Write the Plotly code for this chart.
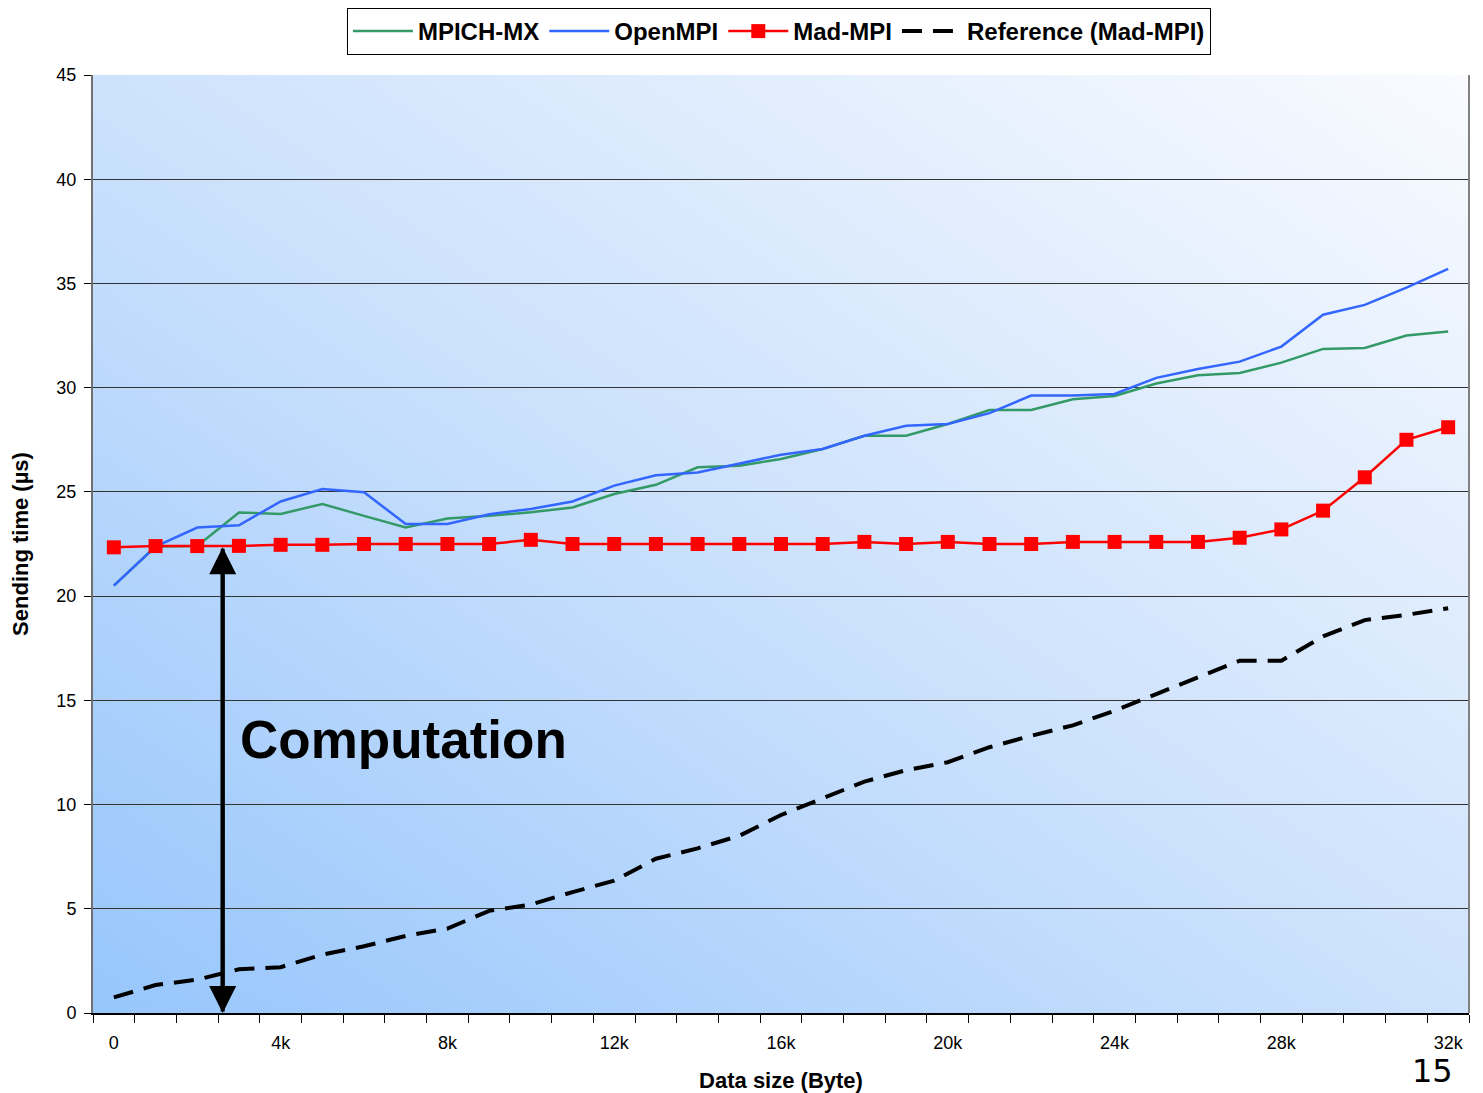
import base64
import plotly.graph_objects as go

# ---- data ----
sizes_k = list(range(33))  # data size in kB (0 .. 32k)
tick_positions = [0, 4, 8, 12, 16, 20, 24, 28, 32]
tick_labels = ["0", "4k", "8k", "12k", "16k", "20k", "24k", "28k", "32k"]
y_ticks = [0, 5, 10, 15, 20, 25, 30, 35, 40, 45]

mpich_mx = [20.5, 22.38, 22.4, 24.01, 23.94, 24.42, 23.85, 23.29, 23.72, 23.85, 24.02,
            24.25, 24.9, 25.34, 26.18, 26.25, 26.58, 27.06, 27.69, 27.69, 28.26, 28.93,
            28.93, 29.44, 29.6, 30.2, 30.6, 30.7, 31.2, 31.86, 31.9, 32.5, 32.7]
openmpi = [20.5, 22.38, 23.29, 23.4, 24.54, 25.14, 24.98, 23.46, 23.46, 23.93, 24.18,
           24.54, 25.3, 25.8, 25.93, 26.37, 26.78, 27.06, 27.69, 28.17, 28.26, 28.78,
           29.62, 29.62, 29.7, 30.47, 30.9, 31.25, 31.97, 33.5, 33.97, 34.8, 35.7]
mad_mpi = [22.34, 22.4, 22.4, 22.41, 22.46, 22.46, 22.5, 22.5, 22.5, 22.5, 22.7,
           22.5, 22.5, 22.5, 22.5, 22.5, 22.5, 22.5, 22.6, 22.5, 22.6, 22.5,
           22.5, 22.6, 22.6, 22.6, 22.6, 22.8, 23.2, 24.1, 25.7, 27.5, 28.1]
reference = [0.75, 1.34, 1.6, 2.1, 2.2, 2.8, 3.2, 3.7, 4.05, 4.9, 5.2,
             5.8, 6.35, 7.4, 7.9, 8.5, 9.5, 10.3, 11.1, 11.65, 12.03, 12.75,
             13.3, 13.8, 14.5, 15.3, 16.1, 16.9, 16.9, 18.07, 18.85, 19.1, 19.42]

computation_x = 2.61
computation_top = 22.35

FONT = "Liberation Sans, Arial, sans-serif"

fig = go.Figure()
fig.add_trace(go.Scatter(x=sizes_k, y=mpich_mx, mode="lines", name="<b>MPICH-MX</b>",
                         line=dict(color="#339966", width=2.5)))
fig.add_trace(go.Scatter(x=sizes_k, y=openmpi, mode="lines", name="<b>OpenMPI</b>",
                         line=dict(color="#3366FF", width=2.5)))
fig.add_trace(go.Scatter(x=sizes_k, y=mad_mpi, mode="lines+markers", name="<b>Mad-MPI</b>",
                         line=dict(color="#FF0000", width=2.5),
                         marker=dict(symbol="square", size=14, color="#FF0000")))
fig.add_trace(go.Scatter(x=sizes_k, y=reference, mode="lines", name="<b>Reference (Mad-MPI)</b>",
                         line=dict(color="black", width=4, dash="20px,11px")))

# gradient background for the plot area
svg = ('<svg xmlns="http://www.w3.org/2000/svg" width="100" height="100" '
       'preserveAspectRatio="none"><defs><linearGradient id="g" x1="0" y1="1" x2="1" y2="0">'
       '<stop offset="0" stop-color="#97c6fc"/><stop offset="0.5" stop-color="#cde2fc"/>'
       '<stop offset="1" stop-color="#f9fbff"/></linearGradient></defs>'
       '<rect width="100" height="100" fill="url(#g)"/></svg>')
src = "data:image/svg+xml;base64," + base64.b64encode(svg.encode()).decode()
fig.add_layout_image(dict(source=src, xref="paper", yref="paper", x=0, y=1,
                          sizex=1, sizey=1, sizing="stretch", layer="below",
                          xanchor="left", yanchor="top"))

# double-headed arrow "Computation"
fig.add_annotation(x=computation_x, y=computation_top, ax=computation_x, ay=0,
                   xref="x", yref="y", axref="x", ayref="y", text="",
                   showarrow=True, arrowhead=2, arrowsize=1.35, arrowwidth=4,
                   arrowcolor="black", standoff=0)
fig.add_annotation(x=computation_x, y=0, ax=computation_x, ay=computation_top,
                   xref="x", yref="y", axref="x", ayref="y", text="",
                   showarrow=True, arrowhead=2, arrowsize=1.35, arrowwidth=4,
                   arrowcolor="black", standoff=0)
fig.add_annotation(x=2.97, y=13.1, xref="x", yref="y", text="<b>Computation</b>",
                   showarrow=False, xanchor="left", yanchor="middle",
                   font=dict(family=FONT, size=53, color="black"))
# slide number (page is offset by the 8px body margin)
fig.add_annotation(x=(1432 - 93) / 1376, y=-(1084 - 1005) / 938, xref="paper", yref="paper",
                   text="15", showarrow=False, xanchor="center", yanchor="bottom",
                   font=dict(family="DejaVu Sans", size=32, color="black"))

fig.update_layout(
    width=1475, height=1085,
    margin=dict(l=85, r=14, t=67, b=80, autoexpand=False),
    paper_bgcolor="white",
    plot_bgcolor="rgba(0,0,0,0)",
    font=dict(family=FONT, color="black"),
    showlegend=True,
    legend=dict(orientation="h", x=0.4985, xanchor="center",
                yref="container", y=1, yanchor="top",
                bgcolor="white", bordercolor="black", borderwidth=1,
                font=dict(family=FONT, size=24, color="black"),
                itemwidth=60, tracegroupgap=0),
    xaxis=dict(range=[-0.5, 32.5], tickmode="array", tickvals=tick_positions,
               ticktext=tick_labels, ticks="", showgrid=False, zeroline=False,
               showline=True, linecolor="black", linewidth=1.5, mirror=False,
               automargin=False, tickfont=dict(family=FONT, size=18),
               ticklabelstandoff=13,
               minor=dict(tickmode="linear", tick0=-0.5, dtick=1, ticks="outside",
                          ticklen=8, tickcolor="black", tickwidth=1, showgrid=False),
               title=dict(text="<b>Data size (Byte)</b>", font=dict(family=FONT, size=22),
                          standoff=22)),
    yaxis=dict(range=[0, 45], tickmode="array", tickvals=y_ticks, ticks="outside",
               ticklen=7, tickcolor="black", showgrid=True, gridcolor="#333333",
               gridwidth=1, zeroline=False, showline=True, linecolor="#707070",
               linewidth=2, automargin=False, tickfont=dict(family=FONT, size=18),
               ticklabelstandoff=4,
               title=dict(text="<b>Sending time (µs)</b>", font=dict(family=FONT, size=22),
                          standoff=26)),
)
# right border line of plot area
fig.add_shape(type="line", xref="paper", yref="paper", x0=1, x1=1, y0=0, y1=1,
              line=dict(color="#808080", width=2))

fig.write_html("out.html")
